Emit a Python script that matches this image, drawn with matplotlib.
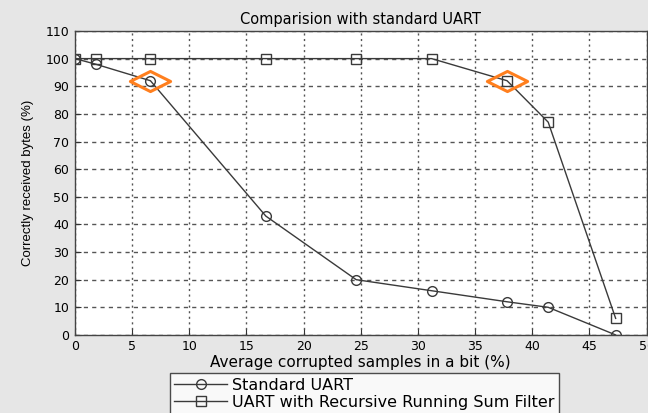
import matplotlib
matplotlib.use('Agg')
import matplotlib.pyplot as plt
from matplotlib.path import Path

# corrupted samples in a bit (%)
corrupted = [0, 1.8, 6.6, 16.7, 24.6, 31.2, 37.8, 41.4, 47.3]
standard_uart = [100, 98, 92, 43, 20, 16, 12, 10, 0]
filter_uart = [100, 100, 100, 100, 100, 100, 92, 77, 6]

# highlighted points (orange diamonds)
highlight_x = [6.6, 37.8]
highlight_y = [92, 92]

x_ticks = list(range(0, 51, 5))
y_ticks = list(range(0, 111, 10))

plt.rcParams['font.family'] = ['DejaVu Sans']

fig = plt.figure(figsize=(6.48, 4.13), dpi=100)
fig.patch.set_facecolor('#e6e6e6')
ax = fig.add_axes([0.1157, 0.189, 0.882, 0.736])
ax.set_facecolor('white')

line_col = '#3a3a3a'
ax.plot(corrupted, standard_uart, '-o', color=line_col, lw=1.0,
        markersize=7, markerfacecolor='none', markeredgecolor=line_col,
        markeredgewidth=1.0, label='Standard UART')
ax.plot(corrupted, filter_uart, '-s', color=line_col, lw=1.0,
        markersize=7, markerfacecolor='none', markeredgecolor=line_col,
        markeredgewidth=1.0, label='UART with Recursive Running Sum Filter')

# flattened diamond marker
diamond = Path([(-1, 0), (0, 0.5), (1, 0), (0, -0.5), (-1, 0)],
               [Path.MOVETO, Path.LINETO, Path.LINETO, Path.LINETO, Path.CLOSEPOLY])
ax.plot(highlight_x, highlight_y, linestyle='none', marker=diamond,
        markersize=29, markerfacecolor='none', markeredgecolor='#ff7f1e',
        markeredgewidth=2.2)

ax.set_xlim(0, 50)
ax.set_ylim(0, 110)
ax.set_xticks(x_ticks)
ax.set_yticks(y_ticks)
ax.tick_params(direction='in', length=4, labelsize=9, color='#333333', pad=4)
ax.xaxis.grid(True, linestyle=(0, (1.5, 2.5)), color='#555555', lw=1.0)
ax.yaxis.grid(True, linestyle=(0, (3, 3)), color='#555555', lw=1.0)
ax.set_axisbelow(True)
for s in ax.spines.values():
    s.set_color('#444444')
    s.set_linewidth(1.0)

ax.set_title('Comparision with standard UART', fontsize=10.5, pad=5)
ax.set_xlabel('Average corrupted samples in a bit (%)', fontsize=11, labelpad=1)
ax.set_ylabel('Correctly received bytes (%)', fontsize=9.5, labelpad=8,
              family=['Liberation Sans', 'DejaVu Sans'])

leg = fig.legend(handles=ax.get_lines()[:2], loc='upper center',
                 bbox_to_anchor=(0.5625, 0.097), fontsize=11.5, frameon=True,
                 fancybox=False, handlelength=3.3, borderpad=0.3,
                 labelspacing=0.12, handletextpad=0.3, borderaxespad=0)
leg.get_frame().set_edgecolor('#222222')
leg.get_frame().set_linewidth(1.0)

fig.savefig('out.png', dpi=100, facecolor=fig.get_facecolor())
